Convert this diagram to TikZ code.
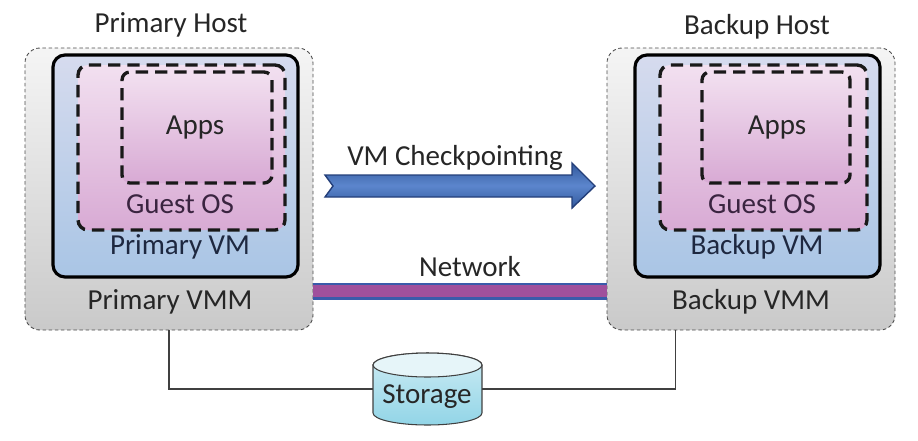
\documentclass[tikz,border=0pt]{standalone}
\usepackage{fontspec}
\setmainfont{Carlito}
\usetikzlibrary{positioning,fit}

\definecolor{vmtop}{HTML}{D6DBEE}
\definecolor{vmbot}{HTML}{A9C5E5}
\definecolor{ostop}{HTML}{F2E0F0}
\definecolor{osbot}{HTML}{D8AAD4}
\definecolor{sttop}{HTML}{E6F5F9}
\definecolor{stbot}{HTML}{92D5E7}
\definecolor{ckblue}{HTML}{3F70C4}
\definecolor{ckdark}{HTML}{243F7A}
\definecolor{netblue}{HTML}{3A5BAA}
\definecolor{netpurple}{HTML}{A0509C}
\definecolor{vmtext}{HTML}{1E2840}
\definecolor{ostext}{HTML}{3A2440}

\tikzset{
    hostbox/.style={draw=black!70, dash pattern=on 2pt off 1.5pt, line width=0.5pt,
        rounded corners=0.3cm, top color=gray!8, bottom color=gray!42, inner sep=0pt},
    vmbox/.style={draw=black, line width=1.8pt, rounded corners=0.24cm,
        top color=vmtop, bottom color=vmbot, inner sep=0pt},
    osbox/.style={draw=black!90, line width=1.9pt, dash pattern=on 7pt off 4pt,
        rounded corners=0.2cm, top color=ostop, bottom color=osbot, inner sep=0pt},
    lbl/.style={font=\fontsize{16.5}{19}\selectfont, text=black!85, inner sep=0pt},
    wire/.style={draw=black!75, line width=0.6pt},
    drum/.style={draw=black!75, line width=0.6pt},
}

\begin{document}
\begin{tikzpicture}[x=0.02cm, y=-0.02cm]
    \useasboundingbox (0,0) rectangle (918,440);
    % primary side
    \node[hostbox, fit={(25,48) (313,330)}] (phost) {};
    \node[vmbox, fit={(53,55) (298,277)}] (pvm) {};
    \node[osbox, fit={(78,65) (285,230)}] (pos) {};
    \node[osbox, rounded corners=0.16cm, fit={(122,72) (272,183)}] (papps) {};
    \node[lbl] (phostlbl) at (171,25) {Primary Host};
    \node[lbl] (pappslbl) at (195,128) {Apps};
    \node[lbl, text=ostext] (poslbl) at (180,204) {Guest OS};
    \node[lbl, text=vmtext] (pvmlbl) at (180,247) {Primary VM};
    \node[lbl] (pvmmlbl) at (170,302) {Primary VMM};
    % backup side
    \node[hostbox, fit={(607,48) (895,330)}] (bhost) {};
    \node[vmbox, fit={(635,55) (880,277)}] (bvm) {};
    \node[osbox, fit={(660,65) (867,230)}] (bos) {};
    \node[osbox, rounded corners=0.16cm, fit={(702,72) (850,183)}] (bapps) {};
    \node[lbl] (bhostlbl) at (757,27) {Backup Host};
    \node[lbl] (bappslbl) at (777,128) {Apps};
    \node[lbl, text=ostext] (boslbl) at (762,204) {Guest OS};
    \node[lbl, text=vmtext] (bvmlbl) at (757,247) {Backup VM};
    \node[lbl] (bvmmlbl) at (751,302) {Backup VMM};
    % checkpoint arrow
    \draw[draw=ckdark, line width=0.8pt, top color=ckblue!80!black, bottom color=ckblue!80!black,
        middle color=ckblue!85!white]
        (325,175) -- (572,175) -- (572,163) -- (595,186) -- (572,208)
        -- (572,197) -- (325,197) -- (333,186) -- cycle;
    \node[lbl] (cklbl) at (455,158) {VM Checkpointing};
    % network
    \coordinate (netlevel) at (0,291);
    \draw[draw=netblue, line width=0.045cm, double=netpurple, double distance=0.25cm]
        (phost.east |- netlevel) -- (bhost.west |- netlevel);
    \node[lbl] (netlbl) at (470,267) {Network};
    % storage drum
    \draw[drum, top color=sttop!70!stbot, bottom color=stbot]
        (373,365) -- (373,413) arc[start angle=180, end angle=360, x radius=1.09cm, y radius=0.24cm]
        -- (482,365) arc[start angle=0, end angle=180, x radius=1.09cm, y radius=0.24cm] -- cycle;
    \draw[drum, fill=sttop] (427.5,365) ellipse[x radius=1.09cm, y radius=0.24cm];
    \coordinate (storL) at (373,389);
    \coordinate (storR) at (482,389);
    \node[lbl] (stor) at (427,397) {Storage};
    \draw[wire] (phost.south) |- (storL);
    \draw[wire] (storR) -| ([xshift=-1.52cm]bhost.south);
\end{tikzpicture}
\end{document}
